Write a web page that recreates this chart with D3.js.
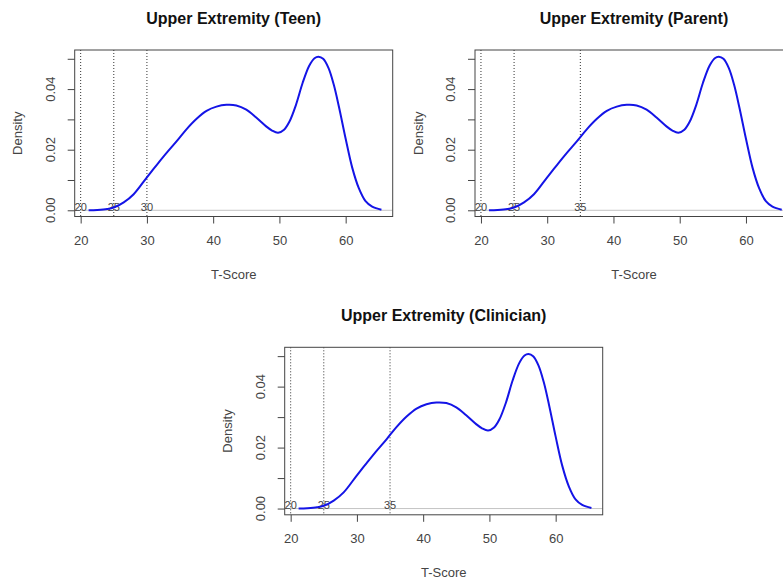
<!DOCTYPE html>
<html>
<head>
<meta charset="utf-8">
<script src="https://cdn.jsdelivr.net/npm/d3@7"></script>
<style>
  body { margin: 0; background: #fff; }
  text { font-family: "Liberation Sans", Arial, sans-serif; }
</style>
</head>
<body>
<div id="root"></div>
<script>
// density curve (same curve in all three panels)
const tScore = [21.2, 22.5, 24, 25, 26.5, 28, 30, 31.5, 33, 34.5, 36, 37.5, 39, 40.5, 42, 43.5,
  45, 46.5, 48, 48.9, 49.8, 50.7, 51.5, 52.5, 53.5, 54.5, 55.3, 55.9, 56.6, 57.4, 58.2, 59, 60,
  61, 62, 63, 64, 65.4];
const density = [0, 0.0001, 0.0004, 0.0009, 0.0026, 0.0053, 0.0109, 0.0150, 0.0190, 0.0228,
  0.0268, 0.0302, 0.0328, 0.0342, 0.0348, 0.0346, 0.0332, 0.0306, 0.0277, 0.0263, 0.0256,
  0.0266, 0.0292, 0.0348, 0.0420, 0.0477, 0.0502, 0.0507, 0.0500, 0.0470, 0.0415, 0.0340,
  0.0236, 0.0140, 0.0072, 0.0030, 0.0012, 0.0002];

const xTicks = [20, 30, 40, 50, 60];
const yTicks = [0, 0.01, 0.02, 0.03, 0.04, 0.05];
const yTickLabels = ["0.00", "", "0.02", "", "0.04", ""];

const titles = ["Upper Extremity (Teen)", "Upper Extremity (Parent)", "Upper Extremity (Clinician)"];
const teenCuts = [20, 25, 30];
const parentCuts = [20, 25, 35];
const clinicianCuts = [20, 25, 35];

const width = 783, height = 580;

const svg = d3.select("#root")
  .append("svg")
  .attr("width", width)
  .attr("height", height);

const panels = [
  { title: titles[0], cuts: teenCuts, left: 74.7, top: 50, w: 318, h: 166.5 },
  { title: titles[1], cuts: parentCuts, left: 475, top: 50, w: 318, h: 166.5 },
  { title: titles[2], cuts: clinicianCuts, left: 284.7, top: 347.3, w: 318, h: 167.5 }
];

panels.forEach((p, i) => drawPanel(p, i));

function drawPanel(p, i) {
  const g = svg.append("g").attr("transform", `translate(${p.left},${p.top})`);

  const x = d3.scaleLinear().domain([19.1, 67.1]).range([0, p.w]);
  const y = d3.scaleLinear().domain([-0.00205, 0.0529]).range([p.h, 0]);

  g.append("clipPath").attr("id", "clip" + i)
    .append("rect").attr("width", p.w).attr("height", p.h);

  const plot = g.append("g").attr("clip-path", `url(#clip${i})`);

  // zero line
  plot.append("line")
    .attr("x1", 0).attr("x2", p.w)
    .attr("y1", y(0)).attr("y2", y(0))
    .attr("stroke", "#c4c4c4")
    .attr("stroke-width", 1);

  // cut lines
  plot.selectAll(".cut")
    .data(p.cuts)
    .join("line")
    .attr("class", "cut")
    .attr("x1", d => x(d)).attr("x2", d => x(d))
    .attr("y1", 0).attr("y2", p.h)
    .attr("stroke", "#333")
    .attr("stroke-width", 1)
    .attr("stroke-dasharray", "1,2");

  plot.selectAll(".cutlab")
    .data(p.cuts)
    .join("text")
    .attr("class", "cutlab")
    .attr("x", d => x(d))
    .attr("y", y(0) + 0.5)
    .attr("text-anchor", "middle")
    .attr("font-size", 11)
    .attr("fill", "#444")
    .text(d => d);

  const line = d3.line()
    .x((d, j) => x(tScore[j]))
    .y(d => y(d))
    .curve(d3.curveCatmullRom);

  plot.append("path")
    .datum(density)
    .attr("d", line)
    .attr("fill", "none")
    .attr("stroke", "#1414e6")
    .attr("stroke-width", 2);

  // axes
  const xAxis = g.append("g")
    .attr("transform", `translate(0,${p.h})`)
    .call(d3.axisBottom(x).tickValues(xTicks).tickSize(7).tickPadding(12).tickFormat(d3.format("d")));
  xAxis.select(".domain").remove();
  xAxis.selectAll("line").attr("stroke", "#444");
  xAxis.selectAll("text").attr("font-size", 13).attr("fill", "#444")
    .style("font-family", "'Liberation Sans', Arial, sans-serif");

  const yAxis = g.append("g")
    .call(d3.axisLeft(y).tickValues(yTicks).tickSize(7).tickFormat(""));
  yAxis.select(".domain").remove();
  yAxis.selectAll("line").attr("stroke", "#444");

  g.selectAll(".ylab")
    .data(yTicks)
    .join("text")
    .attr("class", "ylab")
    .attr("transform", d => `translate(-20,${y(d)}) rotate(-90)`)
    .attr("text-anchor", "middle")
    .attr("font-size", 13)
    .attr("fill", "#444")
    .text((d, j) => yTickLabels[j]);

  // box
  g.append("rect")
    .attr("width", p.w).attr("height", p.h)
    .attr("fill", "none")
    .attr("stroke", "#444")
    .attr("stroke-width", 1);

  g.append("text")
    .attr("x", p.w / 2)
    .attr("y", -26.5)
    .attr("text-anchor", "middle")
    .attr("font-size", 16)
    .attr("font-weight", "bold")
    .attr("fill", "#111")
    .text(p.title);

  g.append("text")
    .attr("x", p.w / 2)
    .attr("y", p.h + 62.5)
    .attr("text-anchor", "middle")
    .attr("font-size", 13)
    .attr("fill", "#444")
    .text("T-Score");

  g.append("text")
    .attr("transform", `translate(-52.5,${p.h / 2}) rotate(-90)`)
    .attr("text-anchor", "middle")
    .attr("font-size", 13)
    .attr("fill", "#444")
    .text("Density");
}
</script>
</body>
</html>
